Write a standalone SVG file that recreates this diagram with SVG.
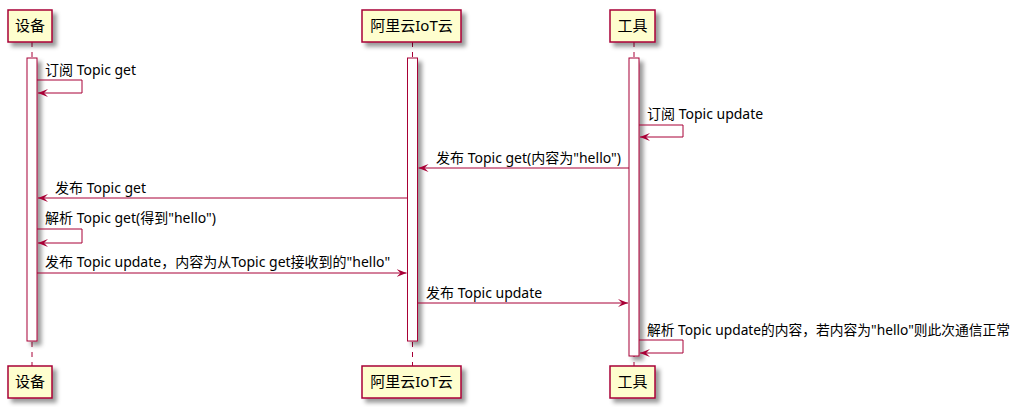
<svg xmlns="http://www.w3.org/2000/svg" width="1015" height="407" viewBox="0 0 1015 407">
<defs>
<filter id="sh" x="-1" y="-1" width="300%" height="300%">
<feGaussianBlur result="b" stdDeviation="2.0"/>
<feColorMatrix in="b" result="b2" type="matrix" values="0 0 0 0 0 0 0 0 0 0 0 0 0 0 0 0 0 0 .4 0"/>
<feOffset dx="4" dy="4" in="b2" result="b3"/>
<feBlend in="SourceGraphic" in2="b3" mode="normal"/>
</filter>
<marker id="ah" viewBox="0 0 10 8" refX="10" refY="4" markerWidth="10" markerHeight="8" markerUnits="userSpaceOnUse" orient="auto">
<polygon points="0,0 10,4 0,8 4,4" fill="#A80036"/>
</marker>
</defs>
<style>
.life{stroke:#A80036;stroke-width:1;stroke-dasharray:5,5;fill:none}
.head{fill:#FEFECE;stroke:#A80036;stroke-width:1.5}
.act{fill:#FFFFFF;stroke:#A80036;stroke-width:1}
.pt{font-family:"Noto Sans","Noto Sans CJK SC",sans-serif;font-size:15px;fill:#000;text-anchor:middle}
.mt{font-family:"Noto Sans","Noto Sans CJK SC",sans-serif;font-size:14px;fill:#000}
.msg{stroke:#A80036;stroke-width:1;fill:none;marker-end:url(#ah)}
</style>
<rect width="1015" height="407" fill="#FFFFFF"/>
<g id="device">
<line class="life" x1="32" y1="42" x2="32" y2="366"/>
<rect class="act" x="27" y="58" width="10" height="283" filter="url(#sh)"/>
<rect class="head" x="8" y="10" width="44" height="32" filter="url(#sh)"/>
<text class="pt" x="30" y="31">设备</text>
<rect class="head" x="8" y="366" width="44" height="32" filter="url(#sh)"/>
<text class="pt" x="30" y="387">设备</text>
</g>
<g id="aliyun">
<line class="life" x1="412.5" y1="42" x2="412.5" y2="366"/>
<rect class="act" x="407.5" y="58" width="10" height="283" filter="url(#sh)"/>
<rect class="head" x="362" y="10" width="99" height="32" filter="url(#sh)"/>
<text class="pt" x="411.5" y="31">阿里云IoT云</text>
<rect class="head" x="362" y="366" width="99" height="32" filter="url(#sh)"/>
<text class="pt" x="411.5" y="387">阿里云IoT云</text>
</g>
<g id="tool">
<line class="life" x1="634" y1="42" x2="634" y2="366"/>
<rect class="act" x="629" y="58" width="10" height="298" filter="url(#sh)"/>
<rect class="head" x="610" y="10" width="45" height="32" filter="url(#sh)"/>
<text class="pt" x="632.5" y="31">工具</text>
<rect class="head" x="610" y="366" width="45" height="32" filter="url(#sh)"/>
<text class="pt" x="632.5" y="387">工具</text>
</g>
<g id="connectors">
<polyline class="msg" points="37,80 82,80 82,93 38,93"/>
<text class="mt" x="45" y="75">订阅 Topic get</text>
<polyline class="msg" points="639,125 683,125 683,137 640,137"/>
<text class="mt" x="647" y="119">订阅 Topic update</text>
<line class="msg" x1="629" y1="168" x2="418.5" y2="168"/>
<text class="mt" x="436" y="163">发布 Topic get(内容为"hello")</text>
<line class="msg" x1="407.5" y1="198" x2="38" y2="198"/>
<text class="mt" x="55" y="193">发布 Topic get</text>
<polyline class="msg" points="37,229 82,229 82,243 38,243"/>
<text class="mt" x="45" y="223">解析 Topic get(得到"hello")</text>
<line class="msg" x1="37" y1="273" x2="406.5" y2="273"/>
<text class="mt" x="45" y="267">发布 Topic update，内容为从Topic get接收到的"hello"</text>
<line class="msg" x1="417.5" y1="303" x2="628" y2="303"/>
<text class="mt" x="426" y="298">发布 Topic update</text>
<polyline class="msg" points="639,340 683,340 683,353 640,353"/>
<text class="mt" x="647" y="335" textLength="363" lengthAdjust="spacingAndGlyphs">解析 Topic update的内容，若内容为"hello"则此次通信正常</text>
</g>
</svg>
